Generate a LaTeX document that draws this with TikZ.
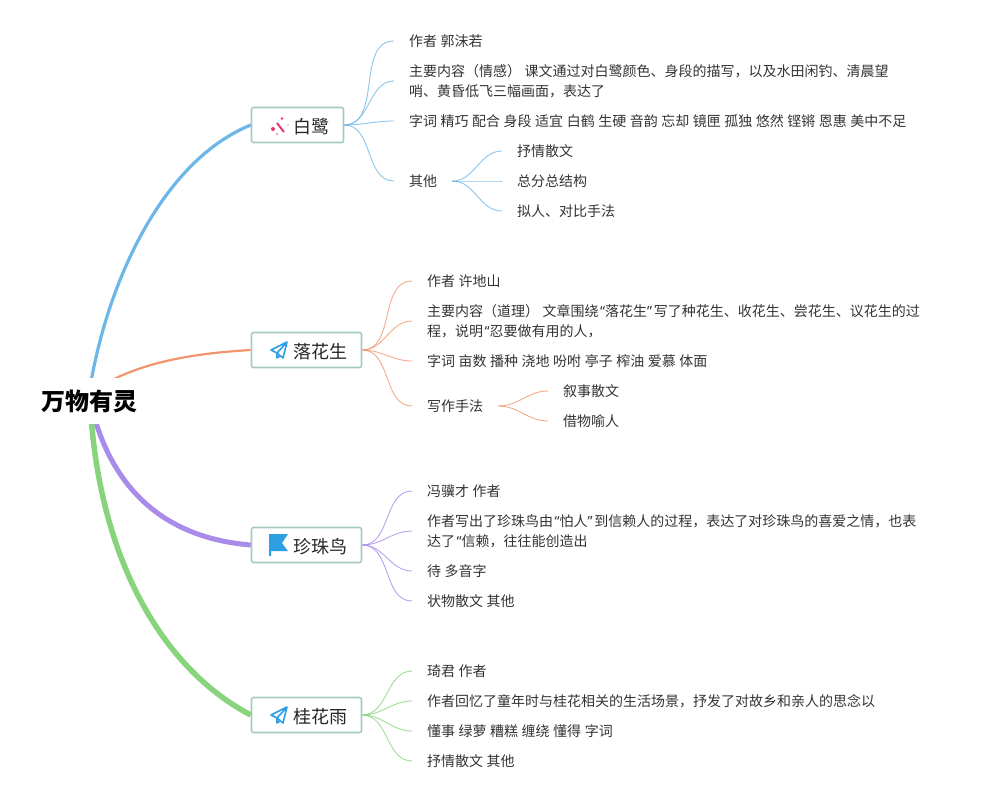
\documentclass[tikz,border=0pt]{standalone}
\usepackage{fontspec}
\setmainfont[WordSpace=1.12]{Noto Sans CJK SC}
\newfontfamily\quotefont{Noto Sans}
\newcommand{\openq}{{\quotefont\kern1.5pt “}}
\newcommand{\closeq}{{\quotefont ”\kern1.5pt}}
\definecolor{blueline}{HTML}{6DB7E8}
\definecolor{orangeline}{HTML}{F2956E}
\definecolor{purpleline}{HTML}{A98BE9}
\definecolor{greenline}{HTML}{88D47C}
\definecolor{boxborder}{HTML}{A5CBC0}
\definecolor{iconblue}{HTML}{2F9FE3}
\definecolor{iconred}{HTML}{E63A6E}
\begin{document}
\begin{tikzpicture}[
        x=1pt, y=-1pt,
        root/.style = {fill=white, inner sep=0pt, minimum width=96pt, minimum height=46pt, font=\fontsize{24}{24}\selectfont\bfseries},
        branch/.style = {draw=boxborder, line width=1.6pt, rounded corners=2pt, fill=white, minimum height=35pt, inner sep=0pt, text height=18pt, text depth=0.6pt, font=\fontsize{18}{18}\selectfont, text=black!85},
        leaf/.style = {anchor=west, inner xsep=15pt, inner ysep=0pt, align=left, font=\fontsize{14}{20}\selectfont, text=black!80},
        twig/.style = {line width=0.9pt, opacity=0.8},
        wandicon/.pic = {
            \draw[iconred, line width=2pt] (7,6) -- (14,15);
            \fill[iconred] (12,1.5) circle (1.4) (3,12) circle (2) (18,8) circle (0.7) (7,17) circle (0.8);
        },
        planeicon/.pic = {
            \draw[iconblue, line width=1.6pt, line join=round] (17,0) -- (1,8) -- (7,11) -- (17,0) -- (13,16) -- (7,11) -- (7,16) -- (10,14);
        },
        flagicon/.pic = {
            \fill[iconblue] (0,0) -- (19,0) -- (13,9) -- (19,17) -- (2,17) -- (2,22) -- (0,22) -- cycle;
        }
    ]
 \useasboundingbox (0,0) rectangle (987,800);

 \coordinate (wanwuA) at (91,382);
 \coordinate (wanwuB) at (108,382);
 \coordinate (wanwuC) at (94,416);
 \coordinate (wanwuD) at (91,416);

 \node[branch, minimum width=92pt] (bailu) at (297.5,125) {\hspace*{28pt}白鹭};
 \node[branch, minimum width=110pt] (luohua) at (306.5,350) {\hspace*{28pt}落花生};
 \node[branch, minimum width=110pt] (zhenzhu) at (306.5,545) {\hspace*{28pt}珍珠鸟};
 \node[branch, minimum width=110pt] (guihua) at (306.5,715) {\hspace*{28pt}桂花雨};

 \pic at (270,117) {wandicon};
 \pic at (270,342) {planeicon};
 \pic at (269,534) {flagicon};
 \pic at (270,707) {planeicon};

 \draw[blueline, line width=3.2pt] (wanwuA) .. controls (110,275) and (165,160) .. (bailu.west);
 \draw[orangeline, line width=2.2pt] (wanwuB) .. controls (150,360) and (200,353) .. (luohua.west);
 \draw[purpleline, line width=5pt] (wanwuC) .. controls (115,490) and (165,538) .. (zhenzhu.west);
 \draw[greenline, line width=5.5pt] (wanwuD) .. controls (102,565) and (165,670) .. (guihua.west);

 \node[root] (wanwu) at (89,401) {万物有灵};

 % bailu
 \node[leaf] (bailuA) at (394,41) {作者 郭沫若};
 \node[leaf] (bailuB) at (394,81) {主要内容（情感） 课文通过对白鹭颜色、身段的描写，以及水田闲钓、清晨望\\哨、黄昏低飞三幅画面，表达了};
 \node[leaf] (bailuC) at (394,121) {字词 精巧 配合 身段 适宜 白鹤 生硬 音韵 忘却 镜匣 孤独 悠然 铿锵 恩惠 美中不足};
 \node[leaf] (bailuD) at (394,181) {其他};
 \node[leaf] (bailuE) at (502,151) {抒情散文};
 \node[leaf] (bailuF) at (502,181) {总分总结构};
 \node[leaf] (bailuG) at (502,211) {拟人、对比手法};
 \draw[twig, blueline] (bailu.east) to[out=0, in=180] (bailuA.west);
 \draw[twig, blueline] (bailu.east) to[out=0, in=180] (bailuB.west);
 \draw[twig, blueline] (bailu.east) to[out=0, in=180] (bailuC.west);
 \draw[twig, blueline] (bailu.east) to[out=0, in=180] (bailuD.west);
 \draw[twig, blueline] (bailuD.east) to[out=0, in=180] (bailuE.west);
 \draw[twig, blueline] (bailuD.east) to[out=0, in=180] (bailuF.west);
 \draw[twig, blueline] (bailuD.east) to[out=0, in=180] (bailuG.west);

 % luohua
 \node[leaf] (luohuaA) at (412,281) {作者 许地山};
 \node[leaf] (luohuaB) at (412,321) {主要内容（道理） 文章围绕\openq 落花生\closeq 写了种花生、收花生、尝花生、议花生的过\\程，说明\openq 忍要做有用的人，};
 \node[leaf] (luohuaC) at (412,361) {字词 亩数 播种 浇地 吩咐 亭子 榨油 爱慕 体面};
 \node[leaf] (luohuaD) at (412,406) {写作手法};
 \node[leaf] (luohuaE) at (548,391) {叙事散文};
 \node[leaf] (luohuaF) at (548,421) {借物喻人};
 \draw[twig, orangeline] (luohua.east) to[out=0, in=180] (luohuaA.west);
 \draw[twig, orangeline] (luohua.east) to[out=0, in=180] (luohuaB.west);
 \draw[twig, orangeline] (luohua.east) to[out=0, in=180] (luohuaC.west);
 \draw[twig, orangeline] (luohua.east) to[out=0, in=180] (luohuaD.west);
 \draw[twig, orangeline] (luohuaD.east) to[out=0, in=180] (luohuaE.west);
 \draw[twig, orangeline] (luohuaD.east) to[out=0, in=180] (luohuaF.west);

 % zhenzhu
 \node[leaf] (zhenzhuA) at (412,491) {冯骥才 作者};
 \node[leaf] (zhenzhuB) at (412,531) {作者写出了珍珠鸟由\openq 怕人\closeq 到信赖人的过程，表达了对珍珠鸟的喜爱之情，也表\\达了\openq 信赖，往往能创造出};
 \node[leaf] (zhenzhuC) at (412,571) {待 多音字};
 \node[leaf] (zhenzhuD) at (412,601) {状物散文 其他};
 \draw[twig, purpleline] (zhenzhu.east) to[out=0, in=180] (zhenzhuA.west);
 \draw[twig, purpleline] (zhenzhu.east) to[out=0, in=180] (zhenzhuB.west);
 \draw[twig, purpleline] (zhenzhu.east) to[out=0, in=180] (zhenzhuC.west);
 \draw[twig, purpleline] (zhenzhu.east) to[out=0, in=180] (zhenzhuD.west);

 % guihua
 \node[leaf] (guihuaA) at (412,671) {琦君 作者};
 \node[leaf] (guihuaB) at (412,701) {作者回忆了童年时与桂花相关的生活场景，抒发了对故乡和亲人的思念以};
 \node[leaf] (guihuaC) at (412,731) {懂事 绿萝 糟糕 缠绕 懂得 字词};
 \node[leaf] (guihuaD) at (412,761) {抒情散文 其他};
 \draw[twig, greenline] (guihua.east) to[out=0, in=180] (guihuaA.west);
 \draw[twig, greenline] (guihua.east) to[out=0, in=180] (guihuaB.west);
 \draw[twig, greenline] (guihua.east) to[out=0, in=180] (guihuaC.west);
 \draw[twig, greenline] (guihua.east) to[out=0, in=180] (guihuaD.west);
\end{tikzpicture}
\end{document}
